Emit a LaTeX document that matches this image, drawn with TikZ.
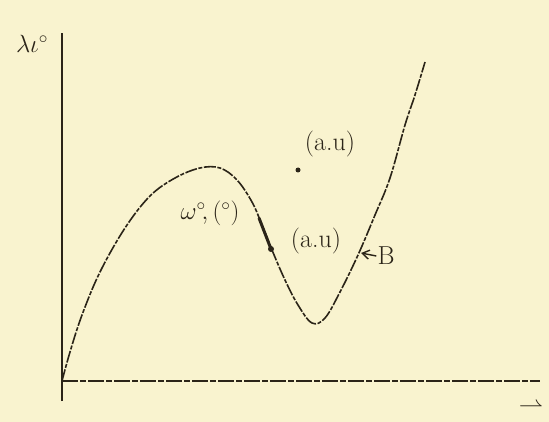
\documentclass[tikz,border=0pt]{standalone}
\usetikzlibrary{arrows.meta}
\definecolor{paper}{HTML}{F9F3CF}
\definecolor{ink}{HTML}{2B2418}
\begin{document}
\begin{tikzpicture}[x=1pt,y=-1pt,
  axisline/.style={ink,line width=2.2pt},
  curveline/.style={ink,line width=1.6pt,dash pattern=on 12pt off 1.6pt on 4pt off 1.6pt},
  lbl/.style={ink,font=\fontsize{26}{28}\selectfont,inner sep=1pt}]
\fill[paper] (0,0) rectangle (549,422);
\useasboundingbox (0,0) rectangle (549,422);
% axes
\coordinate (O) at (62,381);
\coordinate (ytop) at (62,33);
\coordinate (ybot) at (62,401);
\coordinate (xend) at (540,381);
\draw[axisline] (ybot) -- (ytop);
\draw[ink,line width=1.8pt,dash pattern=on 16pt off 2pt on 6pt off 2pt] (O) -- (xend);
% curve
\draw[curveline] plot[smooth,tension=0.6] coordinates {
 (62,381) (70,352) (82,315) (100,272) (125,228) (150,196) (175,178)
 (200,168) (220,168) (237,180) (252,202) (262,225) (272,250) (285,280)
 (298,305) (312,323) (325,318) (340,292) (358,255) (375,215) (390,178)
 (405,125) (415,95) (425,62)};
% thick segment and point on the curve
\coordinate (segA) at (259,218);
\coordinate (P) at (271,249);
\draw[ink,line width=3pt] (segA) -- (P);
\fill[ink] (P) circle (3pt);
% free point
\coordinate (Q) at (298,170);
\fill[ink] (Q) circle (2.5pt);
% labels
\node[lbl] (ulab) at (32,44) {$\lambda\iota^{\circ}$};
\node[lbl] (qlab) at (330,144) {(a.u)};
\node[lbl] (plab) at (316,241) {(a.u)};
\node[lbl] (wlab) at (210,213) {$\omega^{\circ}\!,(^{\circ})$};
\node[lbl] (Blab) at (386,256) {B};
\coordinate (Btip) at (361,253);
\draw[ink,line width=1.4pt,-{Straight Barb[length=7pt,width=9pt]}] (Blab.west) -- (Btip);
\node[lbl] (xlab) at (531,408) {$\rightharpoonup$};
\end{tikzpicture}
\end{document}
